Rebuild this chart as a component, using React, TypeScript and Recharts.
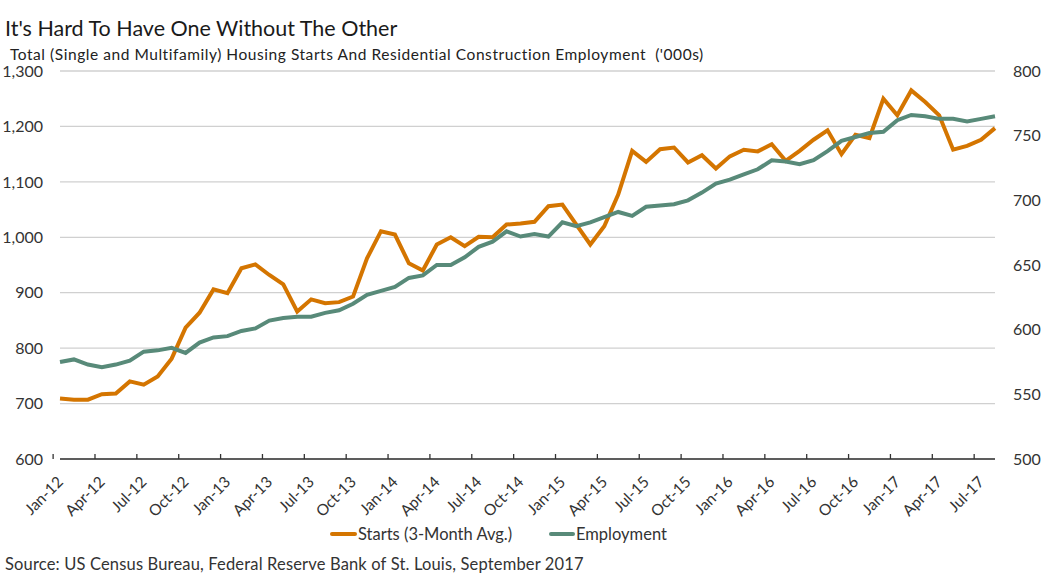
import React from "react";
import { LineChart, Line, XAxis, YAxis, CartesianGrid } from "recharts";

const months: string[] = [
  "Jan-12","Feb-12","Mar-12","Apr-12","May-12","Jun-12","Jul-12","Aug-12","Sep-12","Oct-12","Nov-12","Dec-12",
  "Jan-13","Feb-13","Mar-13","Apr-13","May-13","Jun-13","Jul-13","Aug-13","Sep-13","Oct-13","Nov-13","Dec-13",
  "Jan-14","Feb-14","Mar-14","Apr-14","May-14","Jun-14","Jul-14","Aug-14","Sep-14","Oct-14","Nov-14","Dec-14",
  "Jan-15","Feb-15","Mar-15","Apr-15","May-15","Jun-15","Jul-15","Aug-15","Sep-15","Oct-15","Nov-15","Dec-15",
  "Jan-16","Feb-16","Mar-16","Apr-16","May-16","Jun-16","Jul-16","Aug-16","Sep-16","Oct-16","Nov-16","Dec-16",
  "Jan-17","Feb-17","Mar-17","Apr-17","May-17","Jun-17","Jul-17","Aug-17",
];

// Housing starts, 3-month average ('000s, left axis)
const starts: number[] = [
  709, 707, 707, 717, 718, 740, 734, 749, 781, 837, 864, 906,
  899, 944, 951, 932, 915, 866, 888, 881, 883, 893, 962, 1011,
  1005, 953, 940, 987, 1000, 984, 1001, 1000, 1023, 1025, 1028, 1056,
  1059, 1023, 987, 1020, 1077, 1156, 1136, 1159, 1162, 1135, 1148, 1124,
  1146, 1158, 1155, 1168, 1138, 1156, 1176, 1193, 1150, 1185, 1179, 1250,
  1220, 1265, 1244, 1220, 1158, 1165, 1176, 1197,
];

// Residential construction employment ('000s, right axis)
const employment: number[] = [
  575, 577, 573, 571, 573, 576, 583, 584, 586, 582, 590, 594,
  595, 599, 601, 607, 609, 610, 610, 613, 615, 620, 627, 630,
  633, 640, 642, 650, 650, 656, 664, 668, 676, 672, 674, 672,
  683, 680, 683, 687, 691, 688, 695, 696, 697, 700, 706, 713,
  716, 720, 724, 731, 730, 728, 731, 738, 746, 749, 752, 753,
  762, 766, 765, 763, 763, 761, 763, 765,
];

const leftTicks: number[] = [600, 700, 800, 900, 1000, 1100, 1200, 1300];
const rightTicks: number[] = [500, 550, 600, 650, 700, 750, 800];

const data = months.map((m, i) => ({ month: m, starts: starts[i], employment: employment[i] }));

const W = 1042;
const H = 586;
const LEFT_W = 60;
const RIGHT_W = 47;
const PLOT_W = W - LEFT_W - RIGHT_W;
const BAND = PLOT_W / months.length;

const ORANGE = "#D47500";
const GREEN = "#588A79";
const TEXT = "#333333";
const FONT = "Lato, 'Noto Sans', sans-serif";

const XTick = (props: any) => {
  const { x, y, payload } = props;
  const bx = x - BAND / 2;
  const ax = x + 4;
  const ay = y + 24;
  return (
    <g>
      <line x1={bx} x2={bx} y1={y - 5} y2={y} stroke="#333" strokeWidth={1.3} />
      <text
        x={ax}
        y={ay}
        textAnchor="end"
        fontSize={15.5}
        fill={TEXT}
        fontFamily={FONT}
        transform={`rotate(-45, ${ax}, ${ay})`}
      >
        {payload.value}
      </text>
    </g>
  );
};

const fmt = (v: number) => v.toLocaleString("en-US");

export default function App() {
  return (
    <div style={{ position: "absolute", left: 0, top: 0, width: W, height: H, background: "#fff", fontFamily: FONT, color: TEXT }}>
      <div style={{ position: "absolute", left: 5, top: 15, fontSize: 21.5, color: "#1a1a1a", whiteSpace: "nowrap" }}>
        It's Hard To Have One Without The Other
      </div>
      <div style={{ position: "absolute", left: 10, top: 45, fontSize: 15.5, letterSpacing: 0.55, color: "#222", whiteSpace: "pre" }}>
        {"Total (Single and Multifamily) Housing Starts And Residential Construction Employment  ('000s)"}
      </div>
      <LineChart width={W} height={H} data={data} margin={{ top: 71, right: 0, left: 0, bottom: 67 }}>
        <CartesianGrid horizontal vertical={false} stroke="#d0d0d0" strokeWidth={1.3} yAxisId="left" />
        <XAxis
          dataKey="month"
          interval={2}
          tickLine={false}
          tickSize={0}
          tickMargin={0}
          height={60}
          axisLine={{ stroke: "#333", strokeWidth: 1.5 }}
          tick={<XTick />}
        />
        <YAxis
          yAxisId="left"
          orientation="left"
          width={LEFT_W}
          domain={[600, 1300]}
          ticks={leftTicks}
          tickFormatter={fmt}
          axisLine={false}
          tickLine={false}
          tickSize={0}
          tickMargin={17}
          tick={{ fontSize: 16, fill: TEXT, fontFamily: FONT }}
        />
        <YAxis
          yAxisId="right"
          orientation="right"
          width={RIGHT_W}
          domain={[500, 800]}
          ticks={rightTicks}
          axisLine={false}
          tickLine={false}
          tickSize={0}
          tickMargin={18}
          tick={{ fontSize: 16, fill: TEXT, fontFamily: FONT, textAnchor: "start" }}
        />
        <Line yAxisId="left" type="linear" dataKey="starts" stroke={ORANGE} strokeWidth={4} dot={false} isAnimationActive={false} />
        <Line yAxisId="right" type="linear" dataKey="employment" stroke={GREEN} strokeWidth={4} dot={false} isAnimationActive={false} />
      </LineChart>
      <div style={{ position: "absolute", left: 330, top: 524, height: 20, width: 200, display: "flex", alignItems: "center", fontSize: 16.5, whiteSpace: "nowrap" }}>
        <span style={{ display: "inline-block", width: 27, height: 4, background: ORANGE, borderRadius: 2, marginRight: 1 }} />
        <span>Starts (3-Month Avg.)</span>
      </div>
      <div style={{ position: "absolute", left: 549, top: 524, height: 20, width: 140, display: "flex", alignItems: "center", fontSize: 16.5, whiteSpace: "nowrap" }}>
        <span style={{ display: "inline-block", width: 26, height: 4, background: GREEN, borderRadius: 2, marginRight: 1 }} />
        <span>Employment</span>
      </div>
      <div style={{ position: "absolute", left: 5, top: 554, fontSize: 16.5, letterSpacing: 0.16, whiteSpace: "nowrap" }}>
        Source: US Census Bureau, Federal Reserve Bank of St. Louis, September 2017
      </div>
    </div>
  );
}
